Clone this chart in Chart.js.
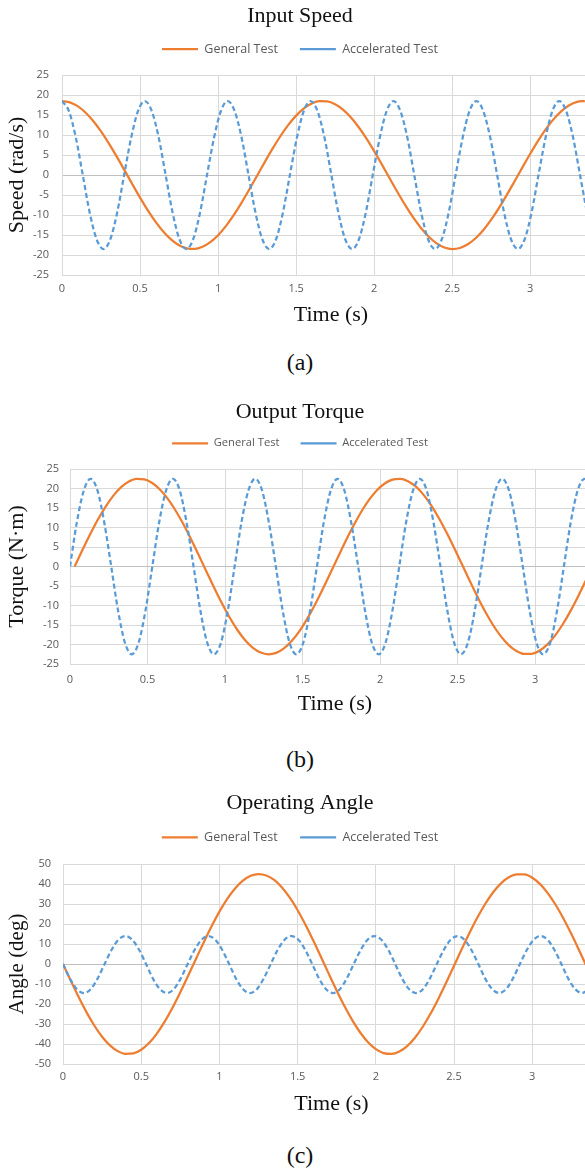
<!DOCTYPE html>
<html>
<head>
<meta charset="utf-8">
<title>Input Speed / Output Torque / Operating Angle</title>
<script src="https://cdn.jsdelivr.net/npm/chart.js@4.4.1/dist/chart.umd.min.js"></script>
<style>
  html, body { margin: 0; padding: 0; background: #fff; }
  body { width: 585px; height: 1171px; overflow: hidden; position: relative; }
  .panel { position: absolute; left: 0; width: 600px; }
  .caption { position: absolute; left: 0; width: 600px; text-align: center;
             font-family: 'Liberation Serif', 'Times New Roman', serif;
             font-size: 24px; line-height: 26px; color: #111; }
</style>
</head>
<body>
<div class="panel" style="top:0px;height:328px"><canvas id="speedChart" width="600" height="328"></canvas></div>
<div class="caption" style="top:349px">(a)</div>
<div class="panel" style="top:395px;height:322px"><canvas id="torqueChart" width="600" height="322"></canvas></div>
<div class="caption" style="top:746px">(b)</div>
<div class="panel" style="top:786px;height:331px"><canvas id="angleChart" width="600" height="331"></canvas></div>
<div class="caption" style="top:1142px">(c)</div>

<script>
// Tick labels
const timeTicks = [0, 0.5, 1, 1.5, 2, 2.5, 3];
const speedTicks = [-25, -20, -15, -10, -5, 0, 5, 10, 15, 20, 25];
const torqueTicks = [-25, -20, -15, -10, -5, 0, 5, 10, 15, 20, 25];
const angleTicks = [-50, -40, -30, -20, -10, 0, 10, 20, 30, 40, 50];

// Time (s) of the points
const generalTime = [
    0, 0.05, 0.1, 0.15, 0.2, 0.25, 0.3, 0.35, 0.4, 0.45,
    0.5, 0.55, 0.6, 0.65, 0.7, 0.75, 0.8, 0.85, 0.9, 0.95,
    1, 1.05, 1.1, 1.15, 1.2, 1.25, 1.3, 1.35, 1.4, 1.45,
    1.5, 1.55, 1.6, 1.65, 1.7, 1.75, 1.8, 1.85, 1.9, 1.95,
    2, 2.05, 2.1, 2.15, 2.2, 2.25, 2.3, 2.35, 2.4, 2.45,
    2.5, 2.55, 2.6, 2.65, 2.7, 2.75, 2.8, 2.85, 2.9, 2.95,
    3, 3.05, 3.1, 3.15, 3.2, 3.25, 3.3, 3.35
];
const torqueGeneralTime = [
    0.03, 0.08, 0.13, 0.18, 0.23, 0.28, 0.33, 0.38, 0.43, 0.48,
    0.53, 0.58, 0.63, 0.68, 0.73, 0.78, 0.83, 0.88, 0.93, 0.98,
    1.03, 1.08, 1.13, 1.18, 1.23, 1.28, 1.33, 1.38, 1.43, 1.48,
    1.53, 1.58, 1.63, 1.68, 1.73, 1.78, 1.83, 1.88, 1.93, 1.98,
    2.03, 2.08, 2.13, 2.18, 2.23, 2.28, 2.33, 2.38, 2.43, 2.48,
    2.53, 2.58, 2.63, 2.68, 2.73, 2.78, 2.83, 2.88, 2.93, 2.98,
    3.03, 3.08, 3.13, 3.18, 3.23, 3.28, 3.33
];
const acceleratedTime = [
    0, 0.044, 0.089, 0.133, 0.177, 0.221, 0.266, 0.31, 0.354, 0.398,
    0.443, 0.487, 0.531, 0.575, 0.62, 0.664, 0.708, 0.752, 0.797, 0.841,
    0.885, 0.929, 0.974, 1.018, 1.062, 1.106, 1.151, 1.195, 1.239, 1.283,
    1.328, 1.372, 1.416, 1.46, 1.505, 1.549, 1.593, 1.637, 1.682, 1.726,
    1.77, 1.814, 1.859, 1.903, 1.947, 1.991, 2.036, 2.08, 2.124, 2.168,
    2.213, 2.257, 2.301, 2.345, 2.39, 2.434, 2.478, 2.522, 2.567, 2.611,
    2.655, 2.699, 2.744, 2.788, 2.832, 2.876, 2.921, 2.965, 3.009, 3.053,
    3.098, 3.142, 3.186, 3.23, 3.275, 3.319, 3.363
];

// (a) Input speed, rad/s
const speedGeneral = [
    18.5, 18.17, 17.21, 15.63, 13.51, 10.9, 7.92, 4.65, 1.22, -2.26,
    -5.65, -8.84, -11.73, -14.2, -16.17, -17.56, -18.34, -18.47, -17.95, -16.79,
    -15.05, -12.77, -10.04, -6.96, -3.63, -0.17, 3.29, 6.64, 9.75, 12.52,
    14.84, 16.65, 17.86, 18.45, 18.38, 17.67, 16.33, 14.42, 12, 9.15,
    5.98, 2.6, -0.87, -4.31, -7.6, -10.62, -13.26, -15.44, -17.08, -18.11,
    -18.5, -18.24, -17.33, -15.82, -13.75, -11.18, -8.23, -4.98, -1.56, 1.91,
    5.32, 8.54, 11.46, 13.97, 15.99, 17.45, 18.29, 18.49
];
const speedAccelerated = [
    18.5, 16, 9.3, 0, -9.3, -16, -18.5, -16, -9.3, 0, 9.3, 16,
    18.5, 16, 9.3, 0, -9.3, -16, -18.5, -16, -9.3, 0, 9.3, 16,
    18.5, 16, 9.3, 0, -9.3, -16, -18.5, -16, -9.3, 0, 9.3, 16,
    18.5, 16, 9.3, 0, -9.3, -16, -18.5, -16, -9.3, 0, 9.3, 16,
    18.5, 16, 9.3, 0, -9.3, -16, -18.5, -16, -9.3, 0, 9.3, 16,
    18.5, 16, 9.3, 0, -9.3, -16, -18.5, -16, -9.3, 0, 9.3, 16,
    18.5, 16, 9.3, 0, -9.3
];

// (b) Output torque, N·m
const torqueGeneral = [
    0, 4.21, 8.27, 12.04, 15.38, 18.18, 20.34, 21.78, 22.45, 22.33,
    21.42, 19.76, 17.4, 14.43, 10.94, 7.07, 2.95, -1.27, -5.45, -9.43,
    -13.09, -16.28, -18.9, -20.85, -22.06, -22.5, -22.14, -21, -19.13, -16.57,
    -13.43, -9.82, -5.86, -1.69, 2.53, 6.67, 10.57, 14.1, 17.13, 19.56,
    21.29, 22.28, 22.48, 21.88, 20.52, 18.43, 15.69, 12.39, 8.66, 4.62,
    0.43, -3.79, -7.87, -11.67, -15.06, -17.92, -20.15, -21.67, -22.42, -22.38,
    -21.55, -19.96, -17.67, -14.75, -11.31, -7.48, -3.38
];
const torqueAccelerated = [
    0, 11.3, 19.5, 22.5, 19.5, 11.3, 0, -11.3, -19.5, -22.5, -19.5, -11.3,
    0, 11.3, 19.5, 22.5, 19.5, 11.3, 0, -11.3, -19.5, -22.5, -19.5, -11.3,
    0, 11.3, 19.5, 22.5, 19.5, 11.3, 0, -11.3, -19.5, -22.5, -19.5, -11.3,
    0, 11.3, 19.5, 22.5, 19.5, 11.3, 0, -11.3, -19.5, -22.5, -19.5, -11.3,
    0, 11.3, 19.5, 22.5, 19.5, 11.3, 0, -11.3, -19.5, -22.5, -19.5, -11.3,
    0, 11.3, 19.5, 22.5, 19.5, 11.3, 0, -11.3, -19.5, -22.5, -19.5, -11.3,
    0, 11.3, 19.5, 22.5, 19.5
];

// (c) Operating angle, deg
const angleGeneral = [
    0, -8.42, -16.53, -24.07, -30.75, -36.35, -40.67, -43.56, -44.9, -44.66,
    -42.85, -39.52, -34.8, -28.85, -21.88, -14.14, -5.91, 2.54, 10.89, 18.87,
    26.18, 32.56, 37.79, 41.69, 44.12, 45, 44.28, 42.01, 38.25, 33.14,
    26.87, 19.63, 11.72, 3.38, -5.07, -13.34, -21.14, -28.2, -34.26, -39.11,
    -42.58, -44.55, -44.95, -43.76, -41.03, -36.86, -31.37, -24.78, -17.32, -9.25,
    -0.85, 7.58, 15.74, 23.35, 30.12, 35.85, 40.31, 43.34, 44.84, 44.76,
    43.1, 39.92, 35.33, 29.49, 22.63, 14.95, 6.75, -1.69
];
const angleAccelerated = [
    0, -7.3, -12.6, -14.5, -12.6, -7.3, 0, 7, 12.1, 14, 12.1, 7,
    0, -7.3, -12.6, -14.5, -12.6, -7.3, 0, 7, 12.1, 14, 12.1, 7,
    0, -7.3, -12.6, -14.5, -12.6, -7.3, 0, 7, 12.1, 14, 12.1, 7,
    0, -7.3, -12.6, -14.5, -12.6, -7.3, 0, 7, 12.1, 14, 12.1, 7,
    0, -7.3, -12.6, -14.5, -12.6, -7.3, 0, 7, 12.1, 14, 12.1, 7,
    0, -7.3, -12.6, -14.5, -12.6, -7.3, 0, 7, 12.1, 14, 12.1, 7,
    0, -7.3, -12.6, -14.5, -12.6
];

const serif = "'Liberation Serif', 'Times New Roman', serif";
Chart.defaults.font.family = "'Open Sans', sans-serif";
Chart.defaults.color = '#595959';

function toPoints(times, values) {
    return times.map((t, i) => ({ x: t, y: values[i] }));
}

// empurra a área do gráfico um pouco abaixo da legenda
function legendGap(extra) {
    return {
        id: 'legendGap',
        beforeInit(chart) {
            const fitLegend = chart.legend.fit;
            chart.legend.fit = function fit() {
                fitLegend.bind(chart.legend)();
                this.height += extra;
            };
        }
    };
}

function createChart(canvasId, cfg) {
    return new Chart(document.getElementById(canvasId), {
        type: 'line',
        data: {
            datasets: [{
                label: 'General Test',
                data: toPoints(cfg.generalTime, cfg.general),
                borderColor: '#ED7D31',
                backgroundColor: '#ED7D31',
                borderWidth: 2.25,
                order: 1
            }, {
                label: 'Accelerated Test',
                data: toPoints(acceleratedTime, cfg.accelerated),
                borderColor: '#5B9BD5',
                backgroundColor: '#5B9BD5',
                borderWidth: 2.25,
                borderDash: [5, 3],
                order: 0
            }]
        },
        options: {
            responsive: false,
            animation: false,
            layout: { padding: 0 },
            elements: {
                point: { radius: 0 },
                line: { cubicInterpolationMode: 'monotone', fill: false }
            },
            scales: {
                x: {
                    type: 'linear',
                    min: 0,
                    max: cfg.xMax,
                    afterBuildTicks: axis => { axis.ticks = timeTicks.map(v => ({ value: v })); },
                    afterFit: axis => { axis.height = 53; },
                    grid: { color: '#d9d9d9', drawTicks: false },
                    border: { color: '#d9d9d9' },
                    ticks: { padding: cfg.xPad, font: { size: 11 }, callback: v => String(v) },
                    title: {
                        display: true,
                        text: 'Time (s)',
                        color: '#111',
                        font: { family: serif, size: 22 },
                        padding: 0
                    }
                },
                y: {
                    min: cfg.yTicks[0],
                    max: cfg.yTicks[cfg.yTicks.length - 1],
                    afterBuildTicks: axis => { axis.ticks = cfg.yTicks.map(v => ({ value: v })); },
                    afterFit: axis => { axis.width = cfg.yWidth; },
                    grid: {
                        color: ctx => (ctx.tick && ctx.tick.value === 0) ? '#bfbfbf' : '#d9d9d9',
                        drawTicks: false
                    },
                    border: { color: '#d9d9d9' },
                    ticks: { padding: cfg.yPad, font: { size: 11 } },
                    title: {
                        display: true,
                        text: cfg.yTitle,
                        color: '#111',
                        font: { family: serif, size: cfg.yTitleSize },
                        padding: { top: cfg.yTitlePad, bottom: 0 }
                    }
                }
            },
            plugins: {
                title: {
                    display: true,
                    text: cfg.title,
                    color: '#111',
                    font: { family: serif, size: 22, weight: 'normal' },
                    padding: { top: cfg.titleTop, bottom: cfg.titleBottom }
                },
                legend: {
                    labels: {
                        usePointStyle: true,
                        pointStyle: 'line',
                        pointStyleWidth: 36,
                        padding: cfg.legendPad,
                        color: '#595959',
                        font: { size: cfg.legendSize },
                        sort: (a, b) => a.datasetIndex - b.datasetIndex
                    }
                },
                tooltip: { enabled: false }
            }
        },
        plugins: [legendGap(cfg.legendExtra)]
    });
}

// Gráfico (a)
const speedChart = createChart('speedChart', {
    title: 'Input Speed',
    titleTop: 3.5, titleBottom: -9.15,
    legendPad: 22, legendSize: 12.5, legendExtra: 9.75,
    generalTime: generalTime, general: speedGeneral, accelerated: speedAccelerated,
    xMax: 3.447, xPad: 7,
    yTicks: speedTicks, yWidth: 62, yPad: 13,
    yTitle: 'Speed (rad/s)', yTitleSize: 22, yTitlePad: 3.8
});

// Gráfico (b)
const torqueChart = createChart('torqueChart', {
    title: 'Output Torque',
    titleTop: 4.1, titleBottom: -8.8,
    legendPad: 21, legendSize: 11.2, legendExtra: 10.1,
    generalTime: torqueGeneralTime, general: torqueGeneral, accelerated: torqueAccelerated,
    xMax: 3.419, xPad: 9,
    yTicks: torqueTicks, yWidth: 70, yPad: 11,
    yTitle: 'Torque (N·m)', yTitleSize: 22, yTitlePad: 3.8
});

// Gráfico (c)
const angleChart = createChart('angleChart', {
    title: 'Operating Angle',
    titleTop: 4.1, titleBottom: -7.95,
    legendPad: 22.5, legendSize: 12.5, legendExtra: 10.45,
    generalTime: generalTime, general: angleGeneral, accelerated: angleAccelerated,
    xMax: 3.433, xPad: 6,
    yTicks: angleTicks, yWidth: 63, yPad: 12,
    yTitle: 'Angle (deg)', yTitleSize: 21, yTitlePad: 4.9
});
</script>
</body>
</html>
